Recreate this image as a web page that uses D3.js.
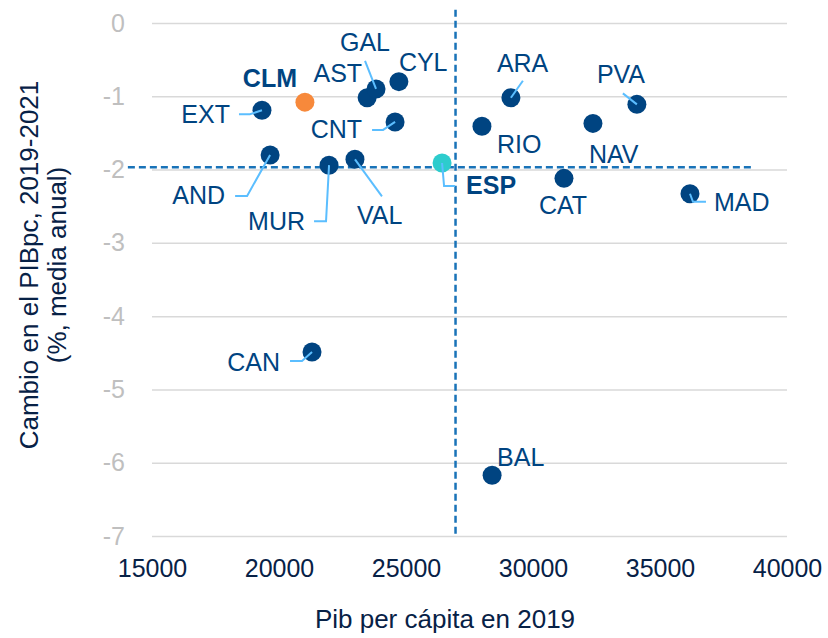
<!DOCTYPE html>
<html>
<head>
<meta charset="utf-8">
<script src="https://cdn.jsdelivr.net/npm/d3@7/dist/d3.min.js"></script>
<style>
  html, body { margin: 0; padding: 0; background: #fff; }
  svg text { font-family: "Liberation Sans", Arial, sans-serif; }
</style>
</head>
<body>
<div id="chart"></div>
<script>
(function() {
  "use strict";

  // data
  var regions = ["EXT", "CLM", "AST", "GAL", "CYL", "CNT", "AND", "MUR", "VAL",
                 "ESP", "ARA", "PVA", "RIO", "NAV", "CAT", "MAD", "CAN", "BAL"];
  var pibpc2019 = [19330, 21020, 23470, 23820, 24720, 24570, 19650, 21970, 22990,
                   26420, 29130, 34090, 27990, 32360, 31220, 36180, 21300, 28390];
  var cambio = [-1.19, -1.08, -1.02, -0.90, -0.80, -1.35, -1.80, -1.94, -1.86,
                -1.91, -1.02, -1.11, -1.41, -1.37, -2.12, -2.33, -4.49, -6.17];

  var xTicks = [15000, 20000, 25000, 30000, 35000, 40000];
  var yTicks = [0, -1, -2, -3, -4, -5, -6, -7];

  // reference lines (mean values)
  var meanPib = 26950;
  var meanCambio = -1.97;

  // label placement: anchor, offset from the dot (px), leader line points
  var labelLayout = {
    EXT: { a: "end",    dx: -32, dy: 13, lead: [[-23, 4], [-12, 4], [0, 0]] },
    CLM: { a: "middle", dx: -35, dy: -15, bold: true },
    AST: { a: "end",    dx: -5,  dy: -16 },
    GAL: { a: "middle", dx: -11, dy: -38, lead: [[-11, -28], [0, 0]] },
    CYL: { a: "start",  dx: 0,   dy: -11 },
    CNT: { a: "end",    dx: -33, dy: 16, lead: [[-23, 8], [-12, 8], [0, 0]] },
    AND: { a: "end",    dx: -45, dy: 49, lead: [[-35, 41], [-23, 41], [0, 0]] },
    MUR: { a: "end",    dx: -24, dy: 65, lead: [[-15, 56], [-3, 56], [0, 0]] },
    VAL: { a: "start",  dx: 2,   dy: 65, lead: [[27, 37], [0, 0]] },
    ESP: { a: "start",  dx: 24,  dy: 31, bold: true, lead: [[0, 0], [2, 23], [13, 23]] },
    ARA: { a: "start",  dx: -14, dy: -26, lead: [[12, -17], [0, 0]] },
    PVA: { a: "start",  dx: -40, dy: -21, lead: [[-14, -11], [0, 0]] },
    RIO: { a: "start",  dx: 15,  dy: 27 },
    NAV: { a: "start",  dx: -4,  dy: 40 },
    CAT: { a: "start",  dx: -25, dy: 36 },
    MAD: { a: "start",  dx: 24,  dy: 17, lead: [[0, 0], [3, 8], [16, 8]] },
    CAN: { a: "end",    dx: -32, dy: 19, lead: [[-22, 9], [-10, 9], [0, 0]] },
    BAL: { a: "start",  dx: 5,   dy: -9 }
  };

  var dotColors = { CLM: "#F7893B", ESP: "#2DCCCD" };

  class ScatterChart {
    appendTo(container, width, height) {
      this._root = this.createDom(width, height);
      container.appendChild(this._root);
    }

    createDom(width, height) {
      var dom = document.createElement("div");
      var svg = d3.select(dom).append("svg")
        .attr("width", width)
        .attr("height", height);

      var left = 152, right = 787, top = 23, bottom = 536;
      this.x = d3.scaleLinear().domain([15000, 40000]).range([left, right]);
      this.y = d3.scaleLinear().domain([-7, 0]).range([bottom, top]);

      this._addAxes(svg, left, right, bottom);
      this._addMeanLines(svg);
      this._addPoints(svg);
      this._addTitles(svg);
      return dom;
    }

    _addAxes(svg, left, right, bottom) {
      var yAxis = svg.append("g")
        .attr("transform", `translate(${left},0)`)
        .call(d3.axisLeft(this.y)
          .tickValues(yTicks)
          .tickFormat(d => String(d))
          .tickSize(-(right - left))
          .tickPadding(27));
      yAxis.select(".domain").remove();
      yAxis.selectAll("line").attr("stroke", "#d9d9d9").attr("stroke-width", 1.5);
      yAxis.selectAll("text")
        .attr("fill", "#bfbfbf")
        .attr("font-size", 25);

      var xAxis = svg.append("g")
        .attr("transform", `translate(0,${bottom})`)
        .call(d3.axisBottom(this.x)
          .tickValues(xTicks)
          .tickFormat(d => String(d))
          .tickSize(0)
          .tickPadding(23));
      xAxis.select(".domain").remove();
      xAxis.selectAll("text")
        .attr("fill", "#072146")
        .attr("font-size", 25);
    }

    _addMeanLines(svg) {
      var dash = { stroke: "#1973B8", width: 2.5, array: "7,4" };
      svg.append("line")
        .attr("x1", this.x(14050)).attr("x2", this.x(38650))
        .attr("y1", this.y(meanCambio)).attr("y2", this.y(meanCambio))
        .attr("stroke", dash.stroke).attr("stroke-width", dash.width)
        .attr("stroke-dasharray", dash.array);
      svg.append("line")
        .attr("x1", this.x(meanPib)).attr("x2", this.x(meanPib))
        .attr("y1", this.y(0.18)).attr("y2", this.y(-7))
        .attr("stroke", dash.stroke).attr("stroke-width", dash.width)
        .attr("stroke-dasharray", dash.array);
    }

    _addPoints(svg) {
      var data = regions.map((r, i) => ({ name: r, px: pibpc2019[i], cy: cambio[i] }));
      var x = this.x, y = this.y;

      svg.append("g").selectAll("circle")
        .data(data)
        .join("circle")
        .attr("cx", d => x(d.px))
        .attr("cy", d => y(d.cy))
        .attr("r", 9.5)
        .attr("fill", d => dotColors[d.name] || "#004481");

      var line = d3.line();
      svg.append("g").selectAll("path")
        .data(data.filter(d => labelLayout[d.name].lead))
        .join("path")
        .attr("d", d => line(labelLayout[d.name].lead.map(p => [x(d.px) + p[0], y(d.cy) + p[1]])))
        .attr("fill", "none")
        .attr("stroke", "#5BBEFF")
        .attr("stroke-width", 2);

      svg.append("g").selectAll("text")
        .data(data)
        .join("text")
        .attr("x", d => x(d.px) + labelLayout[d.name].dx)
        .attr("y", d => y(d.cy) + labelLayout[d.name].dy)
        .attr("text-anchor", d => labelLayout[d.name].a)
        .attr("font-size", 25)
        .attr("font-weight", d => labelLayout[d.name].bold ? "bold" : "normal")
        .attr("fill", "#004481")
        .text(d => d.name);
    }

    _addTitles(svg) {
      svg.append("text")
        .attr("x", 445).attr("y", 628)
        .attr("text-anchor", "middle")
        .attr("font-size", 26)
        .attr("fill", "#072146")
        .text("Pib per cápita en 2019");

      var yTitle = svg.append("text")
        .attr("transform", "translate(38,265) rotate(-90)")
        .attr("text-anchor", "middle")
        .attr("font-size", 26)
        .attr("fill", "#072146");
      yTitle.append("tspan").attr("x", 0).attr("y", 0).text("Cambio en el PIBpc, 2019-2021");
      yTitle.append("tspan").attr("x", 0).attr("y", 28).text("(%, media anual)");
    }
  }

  new ScatterChart().appendTo(document.getElementById("chart"), 828, 638);
})();
</script>
</body>
</html>
